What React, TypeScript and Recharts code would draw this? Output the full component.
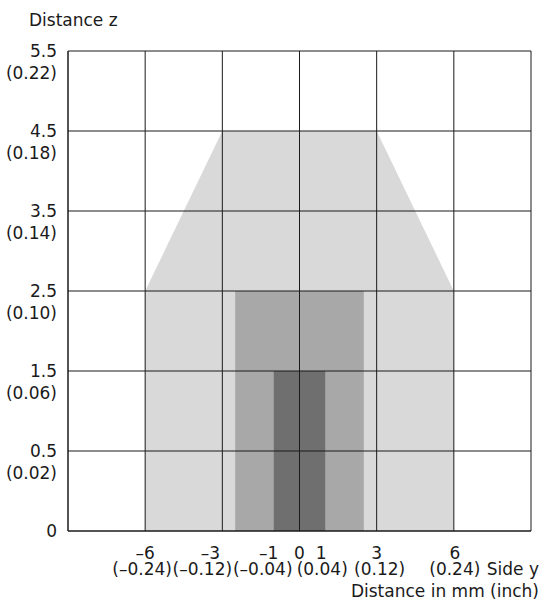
import { Area, ComposedChart, ReferenceLine, XAxis, YAxis } from "recharts";

// side y positions (mm) where the zone outlines change
const sideY = [-6, -3, -2.5, -1, 1, 2.5, 3, 6];
// distance z (mm) of each zone at those positions
const outerZone = [2.5, 4.5, 4.5, 4.5, 4.5, 4.5, 4.5, 2.5];
const middleZone = [null, null, 2.5, 2.5, 2.5, 2.5, null, null];
const innerZone = [null, null, null, 1.5, 1.5, null, null, null];

// z axis is drawn on an even grid with these labels
const zTicksMm = [0, 0.5, 1.5, 2.5, 3.5, 4.5, 5.5];
const zTicksInch = ["", "(0.02)", "(0.06)", "(0.10)", "(0.14)", "(0.18)", "(0.22)"];

const yTicksMm = [-6, -3, -1, 0, 1, 3, 6];
const yTicksInch = ["(–0.24)", "(–0.12)", "(–0.04)", "", "(0.04)", "(0.12)", "(0.24)"];
const yGrid = [-9, -6, -3, 0, 3, 6, 9];

// small hand nudges so the crowded labels sit like the original
const numNudge = [0, -12, -5, 0, -4, 0, 1];
const inchNudge = [-3, -20, -11, 0, -3, 3, 1];

const zPos = (mm: number | null) => (mm == null ? null : zTicksMm.indexOf(mm));

const data = sideY.map((y, i) => ({
  y,
  outer: zPos(outerZone[i]),
  middle: zPos(middleZone[i]),
  inner: zPos(innerZone[i]),
}));

const font = "'DejaVu Sans', sans-serif";
const fontSize = 17;
const ink = "#1a1a1a";

const fmt = (v: number) => (v < 0 ? "–" + Math.abs(v) : String(v));

function ZTick(props: any) {
  const { x, y, payload } = props;
  const i = payload.value;
  return (
    <g fontFamily={font} fontSize={fontSize} fill={ink}>
      <text x={x} y={y} dy={6} textAnchor="end">{zTicksMm[i]}</text>
      {zTicksInch[i] && (
        <text x={x} y={y} dy={28} textAnchor="end">{zTicksInch[i]}</text>
      )}
    </g>
  );
}

function YTick(props: any) {
  const { x, y, payload } = props;
  const i = yTicksMm.indexOf(payload.value);
  return (
    <g fontFamily={font} fontSize={fontSize} fill={ink}>
      <text x={x + numNudge[i]} y={y} dy={28} textAnchor="middle">{fmt(payload.value)}</text>
      {yTicksInch[i] && (
        <text x={x + inchNudge[i]} y={y} dy={44} textAnchor="middle">{yTicksInch[i]}</text>
      )}
    </g>
  );
}

export default function App() {
  return (
    <div style={{ position: "absolute", left: 0, top: 0, width: 544, height: 608, background: "#fff" }}>
      <ComposedChart width={544} height={608} data={data} margin={{ top: 51, right: 13, bottom: 0, left: 0 }}>
        <XAxis
          dataKey="y"
          type="number"
          domain={[-9, 9]}
          ticks={yTicksMm}
          interval={0}
          tickSize={0}
          tickMargin={0}
          tick={<YTick />}
          height={77}
          axisLine={{ stroke: ink }}
        />
        <YAxis
          type="number"
          domain={[0, 6]}
          ticks={[0, 1, 2, 3, 4, 5, 6]}
          interval={0}
          tickSize={0}
          tickMargin={11}
          tick={<ZTick />}
          width={68}
          axisLine={{ stroke: ink }}
        />
        <Area type="linear" dataKey="outer" stroke="none" fill="#d9d9d9" fillOpacity={1} isAnimationActive={false} />
        <Area type="linear" dataKey="middle" stroke="none" fill="#a8a8a8" fillOpacity={1} isAnimationActive={false} />
        <Area type="linear" dataKey="inner" stroke="none" fill="#6f6f6f" fillOpacity={1} isAnimationActive={false} />
        {yGrid.map((v) => (
          <ReferenceLine key={"x" + v} x={v} stroke={ink} strokeWidth={1} />
        ))}
        {zTicksMm.map((_, i) => (
          <ReferenceLine key={"z" + i} y={i} stroke={ink} strokeWidth={1} />
        ))}
      </ComposedChart>
      <svg width={544} height={608} style={{ position: "absolute", left: 0, top: 0, pointerEvents: "none" }}>
        <g fontFamily={font} fontSize={fontSize} fill={ink}>
          <text x={29} y={26}>Distance z</text>
          <text x={539} y={575} textAnchor="end">Side y</text>
          <text x={539} y={597} textAnchor="end">Distance in mm (inch)</text>
        </g>
      </svg>
    </div>
  );
}
